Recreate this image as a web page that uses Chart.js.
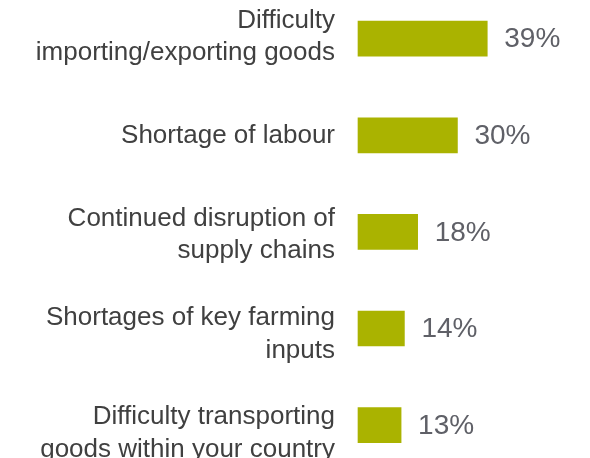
<!DOCTYPE html>
<html>
<head>
<meta charset="utf-8">
<script src="https://cdn.jsdelivr.net/npm/chart.js@4.4.0/dist/chart.umd.min.js"></script>
<style>
  html, body { margin: 0; padding: 0; background: #fff; }
  #wrap { width: 590px; height: 458px; }
</style>
</head>
<body>
<div id="wrap"><canvas id="chart1" width="590" height="458"></canvas></div>
<script>
// categories and values
const categories = [
    ['Difficulty', 'importing/exporting goods'],
    ['Shortage of labour'],
    ['Continued disruption of', 'supply chains'],
    ['Shortages of key farming', 'inputs'],
    ['Difficulty transporting', 'goods within your country']
];
const shares = [39, 30, 18, 14, 13];

// value labels to the right of each bar
const valueLabels = {
    id: 'valueLabels',
    afterDatasetsDraw(chart) {
        const ctx = chart.ctx;
        const meta = chart.getDatasetMeta(0);
        ctx.save();
        ctx.font = '28px "Liberation Sans", Arial, sans-serif';
        ctx.fillStyle = '#5f6067';
        ctx.textAlign = 'left';
        ctx.textBaseline = 'middle';
        meta.data.forEach((bar, i) => {
            ctx.fillText(shares[i] + '%', bar.x + 17, bar.y + 1);
        });
        ctx.restore();
    }
};

const noPad = (scale) => {
    scale.paddingTop = 0;
    scale.paddingBottom = 0;
};

const ctx1 = document.getElementById('chart1').getContext('2d');
new Chart(ctx1, {
    type: 'bar',
    data: {
        datasets: [{
            data: shares.map((v, i) => ({ x: v, y: i })),
            backgroundColor: '#aab300',
            borderWidth: 0,
            barThickness: 35,
            clip: false
        }]
    },
    options: {
        indexAxis: 'y',
        responsive: false,
        animation: false,
        layout: { padding: 0 },
        plugins: {
            legend: { display: false },
            tooltip: { enabled: false }
        },
        scales: {
            x: {
                display: false,
                min: 0,
                max: 70
            },
            // bars
            y: {
                type: 'linear',
                position: 'left',
                offset: false,
                reverse: true,
                min: -0.4006,
                max: 4.3406,
                afterFit: (scale) => {
                    scale.width = 0;
                    noPad(scale);
                },
                grid: { display: false, drawTicks: false },
                border: { display: false },
                ticks: { display: false }
            },
            // category text (spaced a little wider than the bars, as in the original)
            yl: {
                type: 'linear',
                position: 'left',
                offset: false,
                reverse: true,
                min: -0.3711,
                max: 4.2477,
                afterBuildTicks: (scale) => {
                    scale.ticks = categories.map((c, i) => ({ value: i }));
                },
                afterFit: (scale) => {
                    scale.width = 358;
                    noPad(scale);
                },
                grid: { display: false, drawTicks: false },
                border: { display: false },
                ticks: {
                    autoSkip: false,
                    padding: 23,
                    color: '#404040',
                    callback: (v) => categories[v],
                    font: { family: '"Liberation Sans", Arial, sans-serif', size: 26, lineHeight: 1.24 }
                }
            }
        }
    },
    plugins: [valueLabels]
});
</script>
</body>
</html>
